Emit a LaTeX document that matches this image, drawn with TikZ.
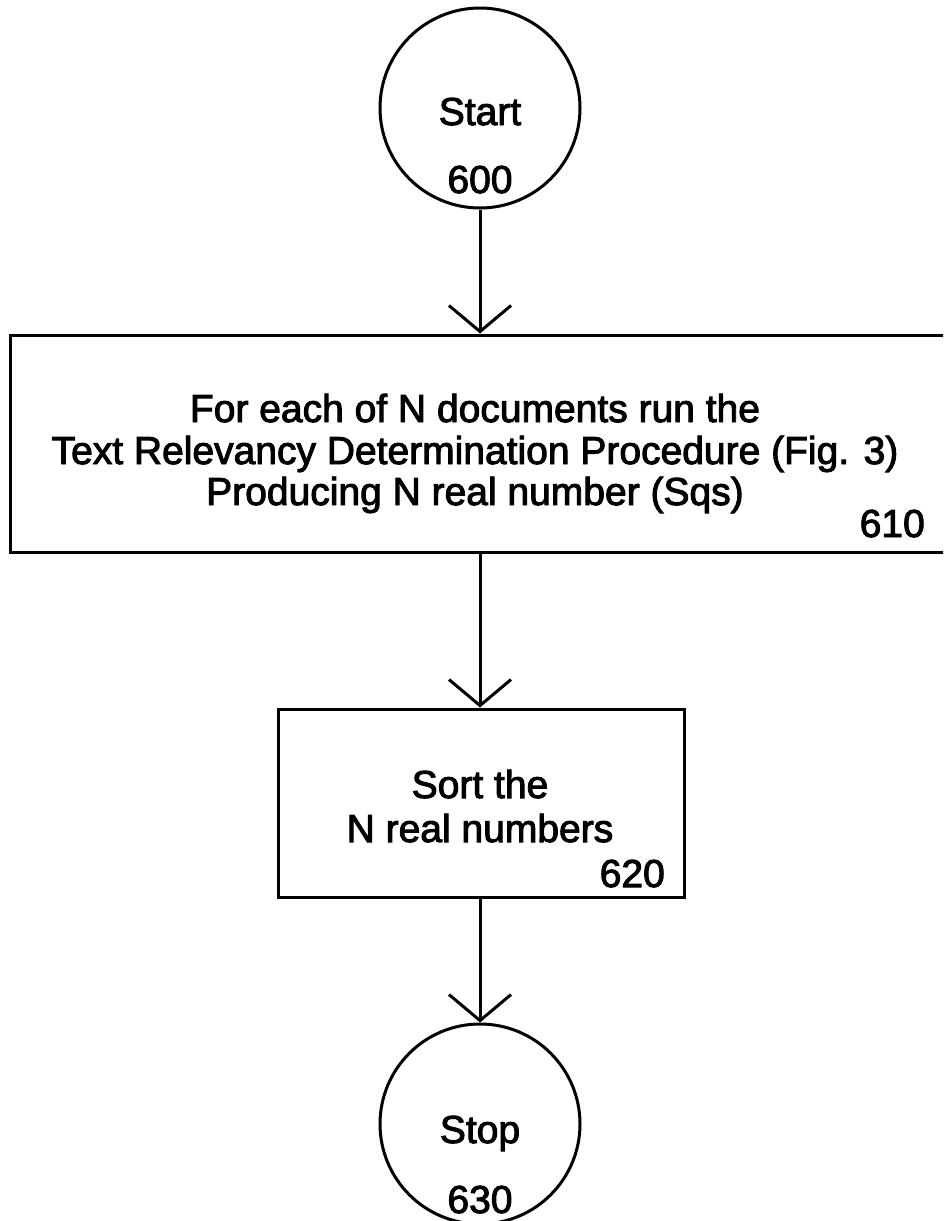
\documentclass[tikz,border=0pt]{standalone}
\usepackage{fontspec}
\setmainfont{Liberation Sans}
\newfontfamily\diagfont{Liberation Sans}[FakeBold=2.5]
\usetikzlibrary{arrows.meta}
\begin{document}
\begin{tikzpicture}[x=1pt,y=-1pt,
  lbl/.style={anchor=base, inner sep=0pt, font=\diagfont\fontsize{39}{41.5}\selectfont},
  num/.style={lbl, anchor=base east},
  term/.style={draw, circle, line width=3pt, minimum size=200pt, inner sep=0pt},
  procbox/.style={draw, rectangle, line width=3pt, inner sep=0pt},
  flow/.style={line width=3pt, -{Straight Barb[length=26pt, width=62pt, line width=3pt]}}]
\useasboundingbox (0,0) rectangle (943,1221);
\clip (0,0) rectangle (943,1221);

% terminals and process boxes
\node[term] (start) at (480,108) {};
\node[procbox, minimum width=936pt, minimum height=217pt] (b610) at (478,443.5) {};
\node[procbox, minimum width=406pt, minimum height=188pt] (b620) at (481,803) {};
\node[term] (stop) at (480,1124) {};

% labels
\node[lbl] (startA) at (480,125) {Start};
\node[lbl] (startB) at (480,193) {600};

\node[lbl] (l610a) at (475,422) {For each of N documents run the};
\node[lbl] (l610b) at (475,464) {Text Relevancy Determination Procedure (Fig. 3)};
\node[lbl] (l610c) at (475,505) {Producing N real number (Sqs)};
\node[num] (n610) at (925,537) {610};

\node[lbl] (l620a) at (480,798) {Sort the};
\node[lbl] (l620b) at (480,842) {N real numbers};
\node[num] (n620) at (665,887) {620};

\node[lbl] (stopA) at (480,1143) {Stop};
\node[lbl] (stopB) at (480,1213) {630};

% connectors
\draw[flow] (start.south) -- (start.south |- b610.north);
\draw[flow] (start.south |- b610.south) -- (start.south |- b620.north);
\draw[flow] (start.south |- b620.south) -- (stop.north);
\end{tikzpicture}
\end{document}
